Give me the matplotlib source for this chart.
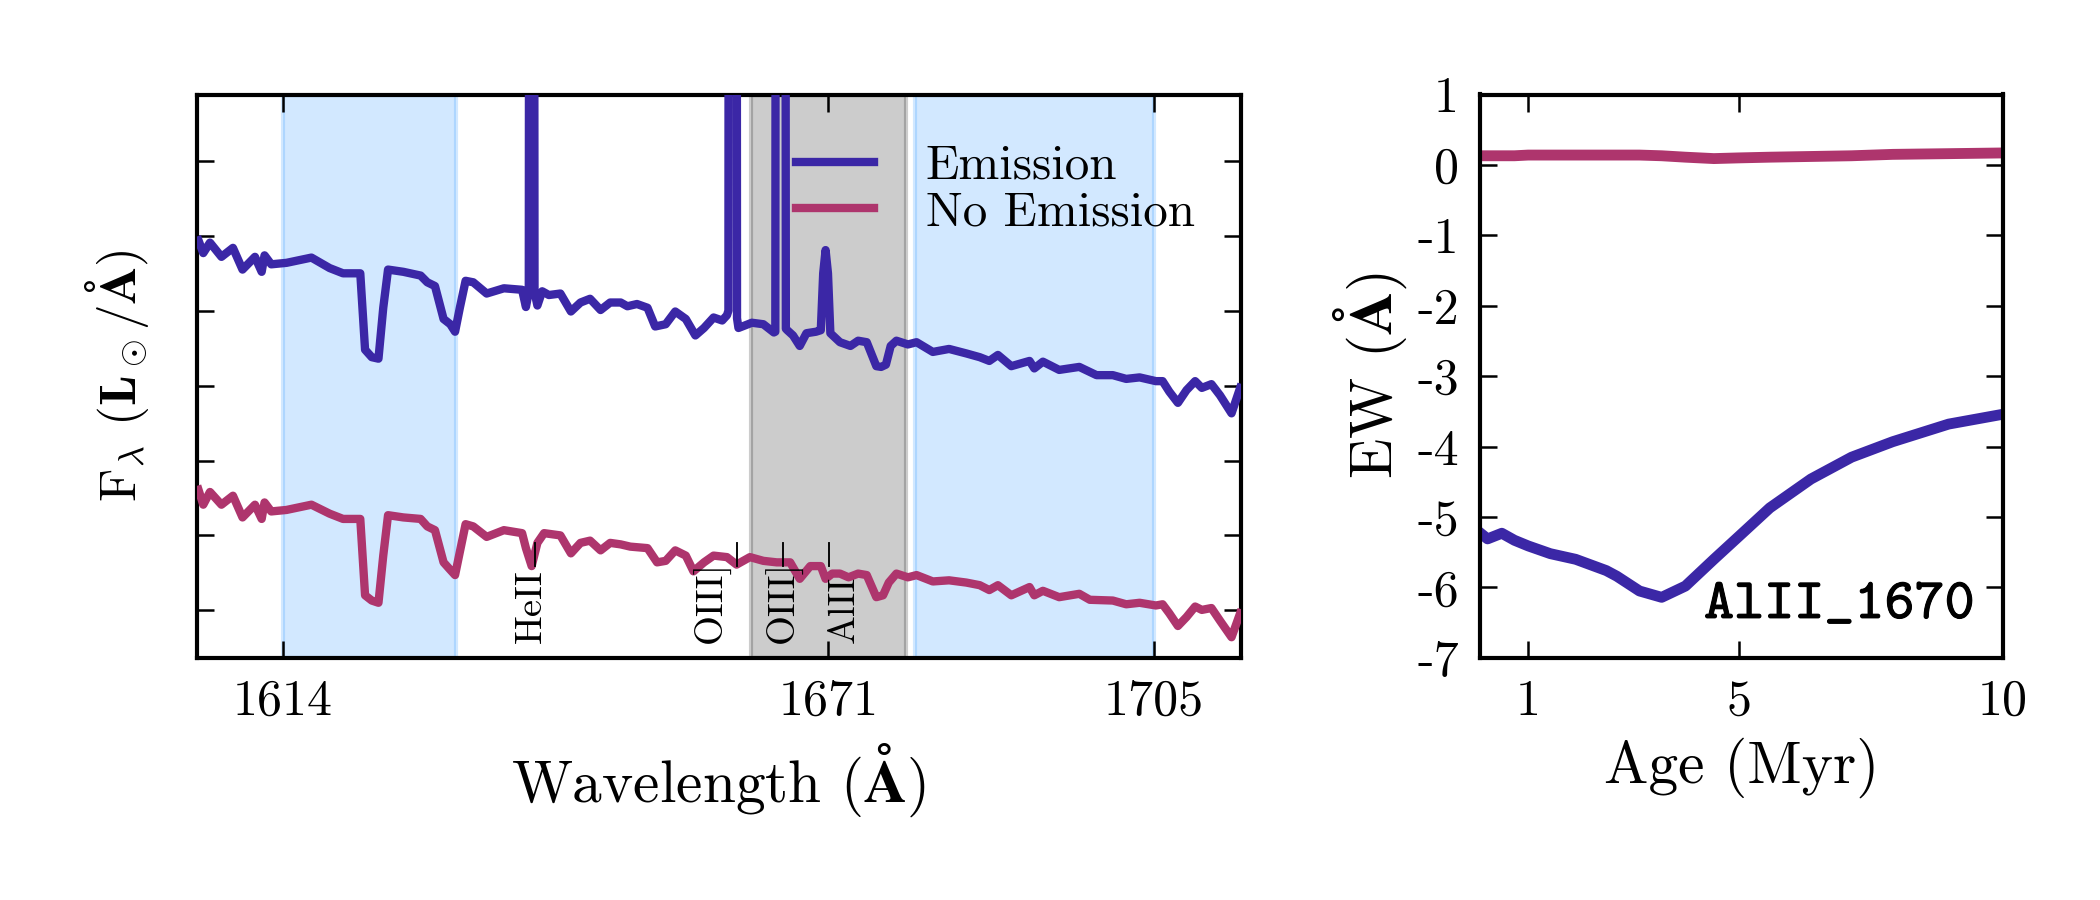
import matplotlib
matplotlib.use("Agg")
import matplotlib.pyplot as plt
import matplotlib.patheffects as pe

# ---------------- data ----------------
lam_em = [1605.2, 1605.7, 1606.4, 1607.6, 1608.8, 1609.8, 1611.1, 1611.8, 1612.1, 1612.8,
          1614.4, 1617.0, 1618.9, 1620.3, 1622.1, 1622.6, 1623.3, 1624.0, 1624.5, 1625.0,
          1626.6, 1628.4, 1629.1, 1629.9, 1630.8, 1631.5, 1632.0, 1632.5, 1633.1, 1633.9,
          1635.3, 1637.1, 1639.0, 1639.4, 1639.7, 1639.8, 1640.2, 1640.3, 1640.6, 1641.1,
          1641.8, 1643.0, 1644.1, 1645.1, 1646.1, 1647.2, 1648.2, 1649.3, 1650.0, 1651.0,
          1652.1, 1652.9, 1654.0, 1655.0, 1656.1, 1657.1, 1658.0, 1659.0, 1659.9, 1660.4,
          1660.55, 1660.62, 1661.38, 1661.45, 1661.6, 1663.0, 1664.2, 1665.3, 1665.45, 1665.55,
          1666.45, 1666.55, 1666.7, 1667.3, 1668.0, 1668.7, 1669.7, 1670.2, 1670.45, 1670.7,
          1670.95, 1671.2, 1672.2, 1673.3, 1674.1, 1675.0, 1676.0, 1676.5, 1677.0, 1677.5,
          1678.1, 1679.3, 1680.2, 1681.9, 1683.6, 1685.4, 1686.8, 1687.8, 1688.7, 1690.1,
          1692.0, 1692.5, 1693.4, 1695.1, 1697.2, 1699.0, 1700.7, 1702.1, 1703.5, 1705.2,
          1705.9, 1706.6, 1707.5, 1708.4, 1709.3, 1710.0, 1711.0, 1711.9, 1713.1, 1714.0]
flux_em = [4.94, 4.77, 4.91, 4.72, 4.84, 4.55, 4.72, 4.52, 4.74, 4.62,
           4.64, 4.71, 4.57, 4.50, 4.50, 3.48, 3.38, 3.36, 4.04, 4.55,
           4.52, 4.47, 4.38, 4.33, 3.89, 3.82, 3.72, 4.04, 4.40, 4.38,
           4.23, 4.30, 4.28, 4.05, 4.25, 20.0, 20.0, 4.25, 4.07, 4.26,
           4.21, 4.23, 3.99, 4.11, 4.16, 4.01, 4.11, 4.11, 4.06, 4.09,
           4.04, 3.79, 3.82, 3.99, 3.89, 3.67, 3.77, 3.91, 3.87, 3.94,
           4.00, 20.0, 20.0, 3.90, 3.77, 3.84, 3.82, 3.71, 3.72, 20.0,
           20.0, 3.76, 3.74, 3.67, 3.53, 3.70, 3.72, 3.74, 4.50, 4.81,
           4.50, 3.70, 3.58, 3.53, 3.60, 3.58, 3.26, 3.25, 3.28, 3.53,
           3.60, 3.55, 3.58, 3.45, 3.49, 3.43, 3.38, 3.33, 3.41, 3.26,
           3.33, 3.23, 3.32, 3.21, 3.25, 3.14, 3.14, 3.09, 3.11, 3.06,
           3.06, 2.92, 2.77, 2.94, 3.06, 2.97, 3.02, 2.87, 2.63, 2.97]

lam_ne = [1605.2, 1605.7, 1606.4, 1607.6, 1608.8, 1609.8, 1611.1, 1611.8, 1612.1, 1612.8,
          1614.4, 1617.0, 1618.9, 1620.3, 1622.1, 1622.6, 1623.3, 1624.0, 1624.5, 1625.0,
          1626.6, 1628.4, 1629.1, 1629.9, 1630.8, 1631.5, 1632.0, 1632.5, 1633.1, 1633.9,
          1635.3, 1637.1, 1639.0, 1639.4, 1640.0, 1640.6, 1641.3, 1643.0, 1644.1, 1645.1,
          1646.1, 1647.2, 1648.2, 1649.3, 1650.3, 1652.1, 1653.1, 1654.0, 1655.0, 1656.1,
          1656.9, 1658.0, 1659.0, 1660.4, 1661.4, 1662.8, 1664.2, 1665.6, 1667.0, 1668.0,
          1669.1, 1670.2, 1670.7, 1671.4, 1672.2, 1673.1, 1674.1, 1675.0, 1676.0, 1676.7,
          1677.3, 1678.1, 1679.3, 1680.2, 1681.9, 1683.6, 1685.4, 1686.8, 1687.8, 1688.7,
          1690.1, 1692.0, 1692.5, 1693.4, 1695.1, 1697.2, 1698.3, 1700.7, 1702.1, 1703.5,
          1705.2, 1705.9, 1706.6, 1707.5, 1708.4, 1709.3, 1710.0, 1711.0, 1711.9, 1713.1,
          1714.0]
flux_ne = [1.61, 1.41, 1.58, 1.41, 1.53, 1.24, 1.41, 1.22, 1.44, 1.32,
           1.34, 1.41, 1.29, 1.22, 1.22, 0.20, 0.13, 0.10, 0.73, 1.27,
           1.24, 1.22, 1.12, 1.07, 0.64, 0.54, 0.47, 0.78, 1.15, 1.12,
           0.98, 1.07, 1.03, 0.83, 0.59, 0.90, 1.03, 1.00, 0.76, 0.90,
           0.93, 0.80, 0.90, 0.88, 0.85, 0.83, 0.64, 0.66, 0.80, 0.73,
           0.52, 0.64, 0.73, 0.71, 0.61, 0.71, 0.66, 0.64, 0.64, 0.42,
           0.59, 0.59, 0.42, 0.49, 0.49, 0.44, 0.49, 0.47, 0.175, 0.20,
           0.37, 0.49, 0.44, 0.47, 0.385, 0.40, 0.37, 0.335, 0.27, 0.335,
           0.20, 0.31, 0.20, 0.26, 0.175, 0.22, 0.14, 0.13, 0.08, 0.10,
           0.064, 0.08, -0.04, -0.21, -0.09, 0.05, 0.005, 0.03, -0.14, -0.36,
           -0.04]

line_names = ["HeII", "OIII]", "OIII]", "AlII"]
line_waves = [1640.4, 1661.4, 1666.3, 1671.1]
label_xs = [1640.0, 1658.85, 1666.3, 1672.6]

blue_windows = [(1614.0, 1632.1), (1680.0, 1705.0)]
gray_window = (1662.9, 1679.1)
xticks_left = [1614, 1671, 1705]

age = [0.08, 0.23, 0.50, 0.74, 1.0, 1.42, 1.90, 2.48, 2.68, 3.11, 3.53, 3.98, 4.52,
       5.0, 5.58, 6.36, 7.13, 7.91, 8.97, 10.0]
ew_em = [-5.22, -5.31, -5.23, -5.33, -5.41, -5.52, -5.60, -5.76, -5.84, -6.05, -6.14,
         -5.98, -5.60, -5.27, -4.87, -4.46, -4.15, -3.93, -3.68, -3.54]
ew_ne = [0.13, 0.13, 0.13, 0.13, 0.14, 0.14, 0.14, 0.14, 0.14, 0.14, 0.13, 0.11, 0.09,
         0.10, 0.11, 0.12, 0.13, 0.15, 0.16, 0.17]
yticks_right = [1, 0, -1, -2, -3, -4, -5, -6, -7]
xticks_right = [1, 5, 10]

# ---------------- style ----------------
plt.rcParams['font.family'] = ['cmr10', 'DejaVu Serif']
plt.rcParams['mathtext.fontset'] = 'cm'
plt.rcParams['axes.unicode_minus'] = False
plt.rcParams['axes.formatter.use_mathtext'] = True
plt.rcParams['axes.linewidth'] = 2.0
for ax_ in ('xtick', 'ytick'):
    plt.rcParams[f'{ax_}.direction'] = 'in'
    plt.rcParams[f'{ax_}.major.size'] = 8
    plt.rcParams[f'{ax_}.major.width'] = 1.2
plt.rcParams['xtick.top'] = True
plt.rcParams['ytick.right'] = True

C_EM = '#3b27a6'
C_NE = '#ae356d'

fig = plt.figure(figsize=(14, 6), dpi=150)
ax1 = fig.add_axes([0.0936, 0.269, 0.4974, 0.626])
ax2 = fig.add_axes([0.7046, 0.269, 0.2492, 0.626])

# ---- left panel ----
for (a, b) in blue_windows:
    ax1.axvspan(a, b, color='dodgerblue', alpha=0.2, lw=2, zorder=0)
ax1.axvspan(*gray_window, color='k', alpha=0.2, lw=2, zorder=0)

ax1.plot(lam_em, flux_em, color=C_EM, lw=4.0, label='Emission', zorder=3)
ax1.plot(lam_ne, flux_ne, color=C_NE, lw=4.0, label='No Emission', zorder=3)

for name, w, lx in zip(line_names, line_waves, label_xs):
    ax1.plot([w, w], [0.59, 0.90], color='k', lw=0.9, zorder=4)
    ax1.text(lx, -0.435, name, rotation=90, ha='center', va='bottom', fontsize=18.5, zorder=4)

ax1.set_xlim(1605.0, 1714.1)
ax1.set_ylim(-0.636, 6.888)
ax1.set_xticks(xticks_left)
ax1.set_xticklabels([str(t) for t in xticks_left])
ax1.set_yticks([0, 1, 2, 3, 4, 5, 6])
ax1.set_yticklabels([])
ax1.tick_params(axis='both', labelsize=24, pad=10)
ax1.set_xlabel(r'Wavelength ($\mathbf{\AA}$)', fontsize=28.5, labelpad=8)
ax1.set_ylabel(r'F$_\lambda$ ($\mathbf{L}_\odot\mathbf{/\AA}$)', fontsize=24.5, labelpad=12)

leg = ax1.legend(loc='upper left', bbox_to_anchor=(0.574, 0.911), frameon=False,
                 fontsize=23.5, handlelength=1.6, handletextpad=1.05, labelspacing=0.05,
                 borderpad=0, borderaxespad=0)

# ---- right panel ----
ax2.plot(age, ew_ne, color=C_NE, lw=5.2)
ax2.plot(age, ew_em, color=C_EM, lw=5.2)
ax2.set_xlim(0.08, 10)
ax2.set_ylim(-7, 1)
ax2.set_xticks(xticks_right)
ax2.set_xticklabels([str(t) for t in xticks_right])
ax2.set_yticks(yticks_right)
ax2.set_yticklabels([str(t) for t in yticks_right])
ax2.tick_params(axis='both', labelsize=24, pad=10)
ax2.set_xlabel('Age (Myr)', fontsize=28.5, labelpad=6)
ax2.set_ylabel(r'EW ($\mathbf{\AA}$)', fontsize=28.5, labelpad=4)
ax2.text(0.946, 0.071, 'AlII_1670', transform=ax2.transAxes, ha='right', va='baseline',
         fontsize=27.5, family=['cmtt10', 'DejaVu Sans Mono'],
         path_effects=[pe.withStroke(linewidth=0.5, foreground='black')])

fig.savefig('out.png', dpi=150)
